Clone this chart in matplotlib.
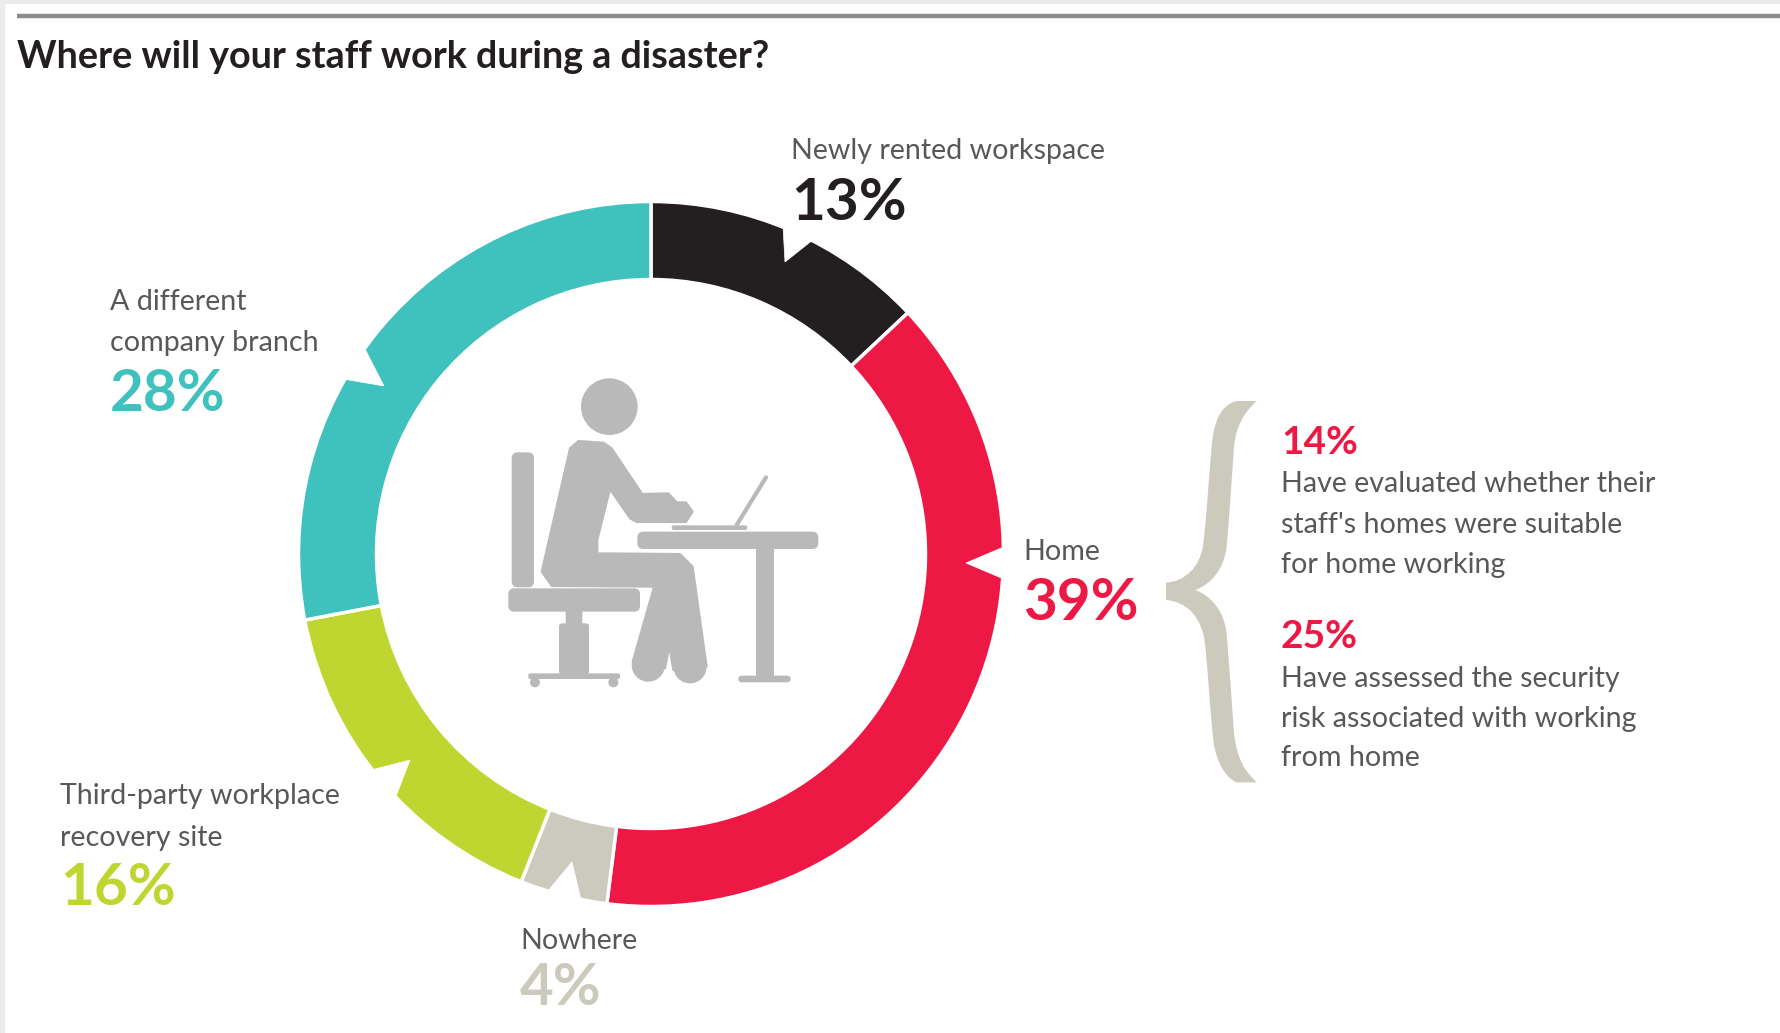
""" Donut chart: where will your staff work during a disaster """
import matplotlib
matplotlib.use("Agg")
import matplotlib.pyplot as plt
from matplotlib.patches import Circle, FancyBboxPatch, PathPatch, Polygon, Rectangle
from matplotlib.path import Path

# Data
categories = ["Newly rented workspace", "Home", "Nowhere", "Third-party workplace\nrecovery site", "A different\ncompany branch"]
shares = [13, 39, 4, 16, 28]
colours = ["#231f20", "#ee1845", "#ccc9bd", "#bed62f", "#3fc1bd"]
home_values = [14, 25]
home_notes = ["Have evaluated whether their\nstaff's homes were suitable\nfor home working",
              "Have assessed the security\nrisk associated with working\nfrom home"]
title = "Where will your staff work during a disaster?"

W, H = 1780, 1033
GREY_TXT = "#58585a"
ICON = "#b9b9b9"
LABEL_FONT = dict(family="Lato", fontsize=20.6, color=GREY_TXT)
PCT_FONT = dict(family="Lato", weight="bold", fontsize=42)


def py(y):
    # pixel y of the reference -> axes y
    return H - y


def zoomed(x, y):
    # coordinates of the icon, measured on a 3x crop
    return 480 + x / 3, py(340 + y / 3)


fig = plt.figure(figsize=(W / 100, H / 100), dpi=100)
ax = fig.add_axes([0, 0, 1, 1])

# Ring
ax.pie(shares, colors=colours, startangle=90, counterclock=False, center=(651, py(554)), radius=352.5,
       frame=True, wedgeprops=dict(width=78, edgecolor="white", linewidth=2.5))
ax.set_xlim(0, W)
ax.set_ylim(0, H)
ax.set_aspect("auto")
ax.axis("off")

# Page edge and rule
fig.patches.append(Rectangle((0, 0), 4 / W, 1, transform=fig.transFigure, color="#ececec"))
fig.patches.append(Rectangle((0, 1 - 3 / H), 1, 3 / H, transform=fig.transFigure, color="#ececec"))
ax.plot([17, W], [py(16), py(16)], color="#8c8c90", lw=3.2, solid_capstyle="butt")

# White notches pointing at the labels
notches = [[(783, 226), (785, 262), (814, 239)],
           [(1006, 546), (966, 563), (1006, 580)],
           [(547, 892), (572, 862), (582, 904)],
           [(371, 770), (410, 760), (395, 799)],
           [(365, 349), (384, 386), (343, 379)]]
for n in notches:
    ax.add_patch(Polygon([(x, py(y)) for x, y in n], closed=True, fc="white", ec="white", lw=0.5, zorder=3))

# Icon
def box(x0, y0, x1, y1, r=12):
    xa, ya = zoomed(x0, y1)
    xb, yb = zoomed(x1, y0)
    ax.add_patch(FancyBboxPatch((xa + r / 3, ya + r / 3), xb - xa - 2 * r / 3, yb - ya - 2 * r / 3,
                                boxstyle="round,pad=%f,rounding_size=%f" % (r / 3, r / 3),
                                fc=ICON, ec="none", zorder=4))


def disc(x, y, r):
    ax.add_patch(Circle(zoomed(x, y), r / 3, fc=ICON, ec="none", zorder=4))


disc(388, 200, 85)
box(95, 337, 162, 742, 18)
box(85, 745, 480, 815, 18)
box(257, 810, 307, 860, 1)
box(237, 850, 327, 1003, 10)
box(145, 1000, 420, 1017, 6)
disc(165, 1027, 15)
disc(400, 1027, 15)
box(472, 575, 1015, 627, 18)
box(828, 620, 882, 1010, 1)
box(775, 1007, 932, 1027, 9)
box(575, 556, 802, 570, 6)
x0, y0 = zoomed(770, 555)
x1, y1 = zoomed(858, 412)
ax.plot([x0, x1], [y0, y1], color=ICON, lw=3, solid_capstyle="round", zorder=4)
body = [(270, 325), (295, 303), (370, 308), (395, 325), (487, 462), (565, 460), (590, 487), (618, 487), (638, 515),
        (618, 546), (470, 546), (450, 535), (390, 448), (352, 600), (352, 640), (600, 642), (638, 680), (680, 980),
        (580, 990), (568, 920), (555, 985), (458, 965), (522, 740), (215, 738), (185, 695)]
ax.add_patch(Polygon([zoomed(x, y) for x, y in body], closed=True, fc=ICON, ec=ICON, lw=1.5, joinstyle="round", zorder=4))
disc(505, 975, 50)
disc(630, 980, 50)

# Brace, one list per path segment
brace = [[(920, 33)], [(860, 33)],
         [(810, 45), (790, 100), (785, 170)],
         [(775, 280), (770, 380), (760, 460)],
         [(752, 535), (700, 575), (648, 578)],
         [(648, 630)],
         [(710, 635), (755, 680), (765, 760)],
         [(775, 860), (780, 960), (790, 1050)],
         [(798, 1120), (830, 1165), (860, 1177)],
         [(920, 1177)],
         [(880, 1140), (860, 1100), (852, 1030)],
         [(845, 930), (838, 830), (830, 730)],
         [(822, 660), (780, 615), (735, 600)],
         [(780, 585), (822, 540), (830, 470)],
         [(838, 380), (845, 270), (852, 170)],
         [(858, 110), (880, 70), (920, 33)]]
brace_pts, codes = [], []
for i, seg in enumerate(brace):
    brace_pts += [(950 + x / 3, py(390 + y / 3)) for x, y in seg]
    if i == 0:
        codes.append(Path.MOVETO)
    elif len(seg) == 1:
        codes.append(Path.LINETO)
    else:
        codes += [Path.CURVE4] * 3
ax.add_patch(PathPatch(Path(brace_pts, codes), fc="#ccc9bd", ec="none"))

# Texts
ax.text(17, py(68), title, family="Lato", weight="bold", fontsize=27.2, color="#231f20")

label_pos = [(791, [159], 220), (1023, [560], 620), (520, [949], 1005), (60, [804, 846], 905), (110, [310, 351], 411)]
for cat, val, col, (x, ys, yp) in zip(categories, shares, colours, label_pos):
    for line, y in zip(cat.split("\n"), ys):
        ax.text(x, py(y), line, **LABEL_FONT)
    ax.text(x, py(yp), "%d%%" % val, color=col, **PCT_FONT)

note_pos = [(454, [492, 533, 573]), (648, [687, 727, 766])]
for val, note, (yp, ys) in zip(home_values, home_notes, note_pos):
    ax.text(1281, py(yp), "%d%%" % val, family="Lato", weight="bold", fontsize=28, color=colours[1])
    for line, y in zip(note.split("\n"), ys):
        ax.text(1281, py(y), line, **LABEL_FONT)

plt.savefig("out.png", dpi=100)
